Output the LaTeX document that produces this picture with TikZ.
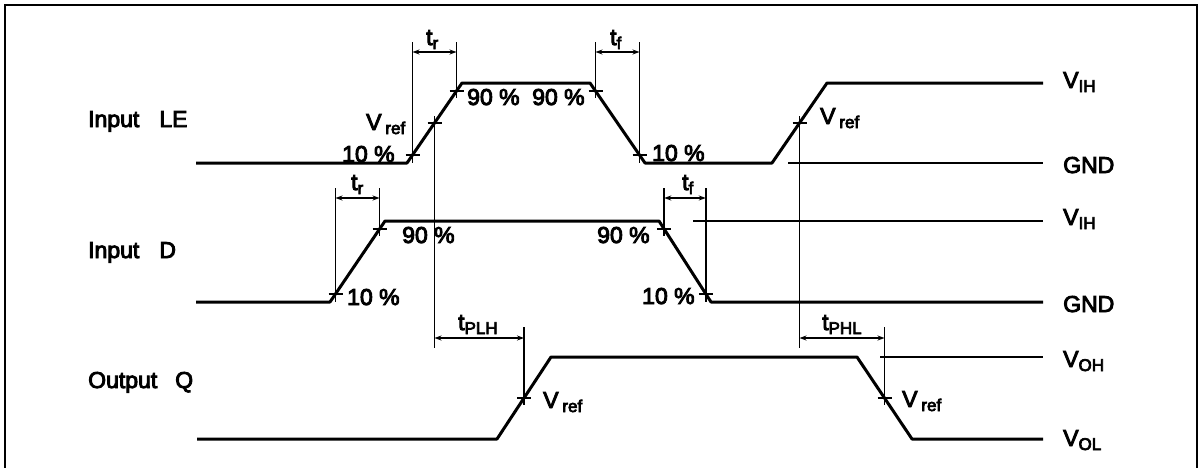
\documentclass[tikz,border=0pt]{standalone}
\usepackage{fontspec}
\setmainfont[FakeBold=4]{Liberation Sans}
\usetikzlibrary{arrows.meta}
\newcommand{\sbs}[1]{\raisebox{-4pt}{\fontsize{17}{17}\selectfont #1}}
\begin{document}
\begin{tikzpicture}[x=1pt,y=-1pt,
  wave/.style={line width=3pt,line join=round},
  thinline/.style={line width=1.5pt},
  frameline/.style={line width=2.5pt},
  dim/.style={line width=1.3pt,{Stealth[length=7pt,width=5pt]}-{Stealth[length=7pt,width=5pt]}},
  lbl/.style={anchor=base west,inner sep=0pt,font=\fontsize{23}{27}\selectfont},
  tick/.style={line width=1.5pt}]
\useasboundingbox (0,0) rectangle (1201,467);
% frame
\coordinate (fbl) at (5,470);
\coordinate (ftl) at (5,5);
\coordinate (ftr) at (1197,5);
\coordinate (fbr) at (1197,470);
\draw[frameline] (fbl) -- (ftl) -- (ftr) -- (fbr);

% ---------- waveform points ----------
% Input LE
\coordinate (le0) at (196,163);
\coordinate (le1) at (407,163);
\coordinate (le2) at (462,83);
\coordinate (le3) at (590,83);
\coordinate (le4) at (645,163);
\coordinate (le5) at (772,163);
\coordinate (le6) at (827,83);
\coordinate (le7) at (1043,83);
% Input D
\coordinate (d0) at (196,302);
\coordinate (d1) at (330,302);
\coordinate (d2) at (385,221);
\coordinate (d3) at (659,221);
\coordinate (d4) at (711,302);
\coordinate (d5) at (1043,302);
% Output Q
\coordinate (q0) at (197,439);
\coordinate (q1) at (497,439);
\coordinate (q2) at (551,357);
\coordinate (q3) at (857,357);
\coordinate (q4) at (912,439);
\coordinate (q5) at (1043,439);

\draw[wave] (le0) -- (le1) -- (le2) -- (le3) -- (le4) -- (le5) -- (le6) -- (le7);
\draw[wave] (d0) -- (d1) -- (d2) -- (d3) -- (d4) -- (d5);
\draw[wave] (q0) -- (q1) -- (q2) -- (q3) -- (q4) -- (q5);

% reference lines
\coordinate (gndA) at (788,163);
\coordinate (gndB) at (1043,163);
\coordinate (vihA) at (693,221);
\coordinate (vihB) at (1043,221);
\coordinate (vohA) at (880,357);
\coordinate (vohB) at (1043,357);
\draw[thinline] (gndA) -- (gndB);
\draw[thinline] (vihA) -- (vihB);
\draw[thinline] (vohA) -- (vohB);

% ---------- measurement points (crosses) ----------
\coordinate (leA) at (412.5,155);
\coordinate (leR) at (434.5,123);
\coordinate (leB) at (456.5,91);
\coordinate (leC) at (595.5,91);
\coordinate (leD) at (639.5,155);
\coordinate (leS) at (799.5,123);
\coordinate (dA) at (335.5,294);
\coordinate (dB) at (379.5,229);
\coordinate (dC) at (664.2,229);
\coordinate (dD) at (705.8,294);
\coordinate (qR) at (524,398);
\coordinate (qS) at (884.5,398);
\foreach \p in {leA,leR,leB,leC,leD,leS,dA,dB,dC,dD,qR,qS}
  \draw[tick] ([xshift=-7pt]\p) -- ([xshift=7pt]\p);

% vertical lines
\coordinate (leTop) at (0,42);
\coordinate (dTop) at (0,188);
\coordinate (qTop) at (0,327);
\draw[thinline] (leA |- leTop) -- (leA |- le1);
\draw[thinline] (leB |- leTop) -- ([yshift=-7pt]leB);
\draw[thinline] (leC |- leTop) -- ([yshift=-7pt]leC);
\draw[thinline] (leD |- leTop) -- (leD |- le1);
\coordinate (pl) at (0,348);
\draw[thinline] ([yshift=7pt]leR) -- (leR |- pl);
\draw[thinline] ([yshift=7pt]leS) -- (leS |- pl);
\draw[thinline] (dA |- dTop) -- (dA |- d1);
\draw[thinline] (dB |- dTop) -- ([yshift=-7pt]dB);
\draw[thinline] (dC |- dTop) -- ([yshift=-7pt]dC);
\draw[thinline] (dD |- dTop) -- (dD |- d4);
\draw[thinline] (qR |- qTop) -- ([yshift=-7pt]qR);
\draw[thinline] (qS |- qTop) -- ([yshift=-7pt]qS);

% dimension arrows
\coordinate (leArr) at (0,52);
\coordinate (dArr) at (0,198);
\coordinate (qArr) at (0,338);
\draw[dim] (leA |- leArr) -- (leB |- leArr);
\draw[dim] (leC |- leArr) -- (leD |- leArr);
\draw[dim] (dA |- dArr) -- (dB |- dArr);
\draw[dim] (dC |- dArr) -- (dD |- dArr);
\draw[dim] (leR |- qArr) -- (qR |- qArr);
\draw[dim] (leS |- qArr) -- (qS |- qArr);

% ---------- labels ----------
\node[lbl] (lInLE) at (88,127) {Input\hspace{20pt}LE};
\node[lbl] (lInD) at (88,258) {Input\hspace{20pt}D};
\node[lbl] (lOutQ) at (88,388) {Output\hspace{18pt}Q};

\node[lbl] (ltr1) at (426,45) {t\sbs{r}};
\node[lbl] (ltf1) at (610,45) {t\sbs{f}};
\node[lbl] (ltr2) at (351,190) {t\sbs{r}};
\node[lbl] (ltf2) at (682,190) {t\sbs{f}};
\node[lbl] (ltplh) at (458,330) {t\sbs{PLH}};
\node[lbl] (ltphl) at (822,330) {t\sbs{PHL}};

\node[lbl] (lvref1) at (366,130) {V\,\sbs{ref}};
\node[lbl] (l10a) at (342,162) {10 \%};
\node[lbl] (l90a) at (467,105) {90 \%};
\node[lbl] (l90b) at (532,105) {90 \%};
\node[lbl] (l10b) at (652,161) {10 \%};
\node[lbl] (lvref2) at (820,124) {V\,\sbs{ref}};

\node[lbl] (l90c) at (402,243) {90 \%};
\node[lbl] (l90d) at (597,243) {90 \%};
\node[lbl] (l10c) at (347,305) {10 \%};
\node[lbl] (l10d) at (642,304) {10 \%};

\node[lbl] (lvref3) at (543,408) {V\,\sbs{ref}};
\node[lbl] (lvref4) at (902,407) {V\,\sbs{ref}};

\node[lbl] (lvih1) at (1063,88) {V\sbs{IH}};
\node[lbl] (lgnd1) at (1063,173) {GND};
\node[lbl] (lvih2) at (1063,225) {V\sbs{IH}};
\node[lbl] (lgnd2) at (1063,312) {GND};
\node[lbl] (lvoh) at (1063,367) {V\sbs{OH}};
\node[lbl] (lvol) at (1063,446) {V\sbs{OL}};
\end{tikzpicture}
\end{document}
